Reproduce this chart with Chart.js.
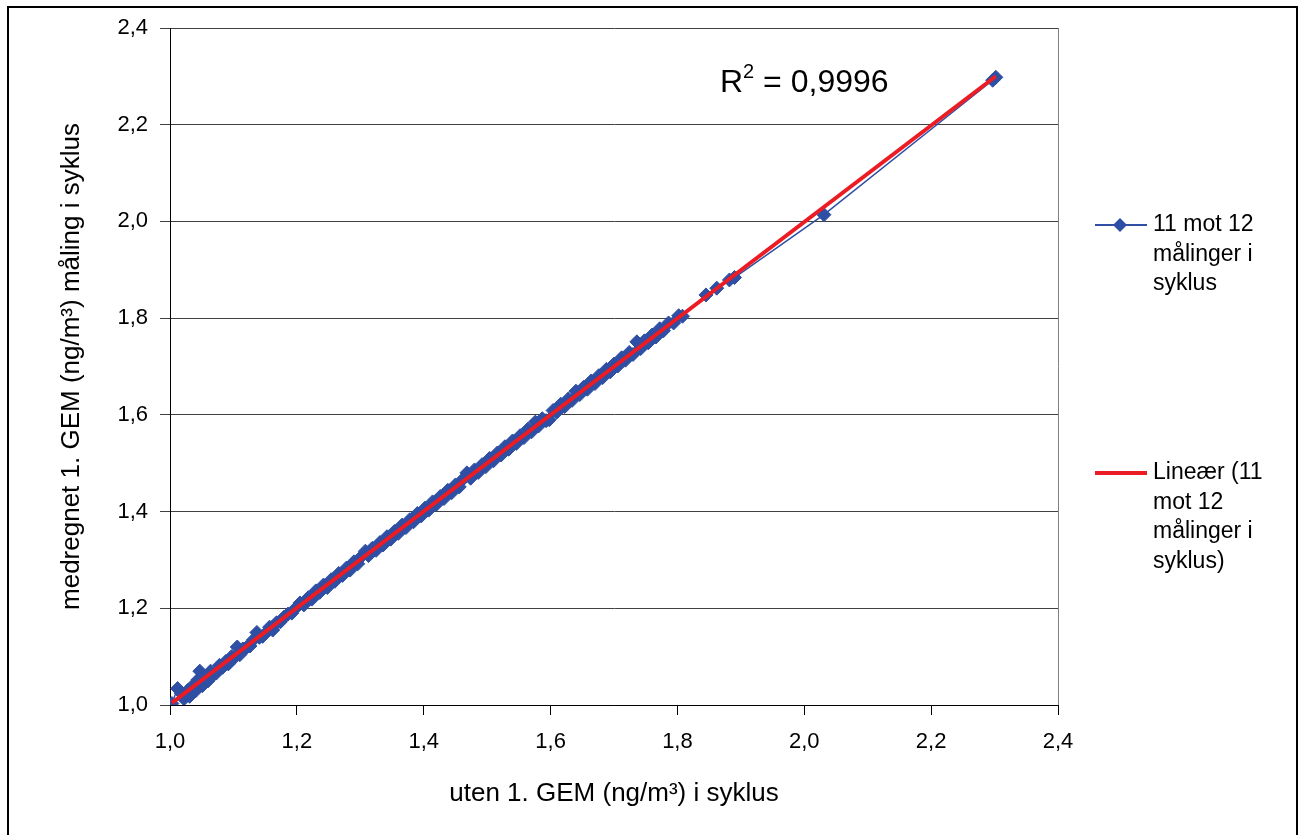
<!DOCTYPE html>
<html><head><meta charset="utf-8">
<script src="https://cdn.jsdelivr.net/npm/chart.js@4/dist/chart.umd.min.js"></script>
<style>html,body{margin:0;padding:0;background:#fff;}canvas{display:block}</style>
</head><body>
<canvas id="c" width="1302" height="835"></canvas>
<script>
// ---- data ----
const xValues = [1.003,1.012,1.018,1.022,1.028,1.031,1.036,1.040,1.044,1.047,1.051,1.055,1.060,1.064,1.068,1.073,1.078,1.083,1.088,1.092,1.097,1.101,1.106,1.110,1.115,1.120,1.126,1.131,1.137,1.141,1.146,1.152,1.157,1.162,1.168,1.174,1.180,1.186,1.192,1.198,
1.205,1.211,1.218,1.224,1.230,1.236,1.242,1.248,1.254,1.260,1.266,1.272,1.278,1.284,1.290,1.296,1.302,1.308,1.313,1.319,1.325,1.331,1.336,1.342,1.348,1.354,1.360,1.366,1.372,1.378,1.384,1.390,1.396,1.402,1.408,1.414,1.420,1.426,1.432,1.438,1.444,1.450,1.456,1.462,1.468,1.474,1.480,1.486,1.492,1.498,1.504,1.510,1.516,1.522,1.528,1.534,1.540,1.546,1.552,1.558,1.564,1.570,1.576,1.581,1.587,1.593,1.598,1.604,1.610,1.616,1.622,1.628,1.634,1.640,1.646,1.652,1.658,1.664,1.670,1.676,1.682,1.688,1.694,1.700,1.706,1.712,1.718,1.724,1.730,1.736,1.742,1.748,1.754,1.760,1.766,1.772,1.778,1.786,1.794,1.802,1.808,
1.845,1.862,1.882,1.890,2.031,2.297,2.302];
const yValues = [1.003,1.034,1.024,1.013,1.030,1.018,1.040,1.029,1.052,1.070,1.040,1.058,1.050,1.070,1.062,1.066,1.082,1.078,1.090,1.085,1.100,1.097,1.120,1.104,1.116,1.118,1.122,1.134,1.150,1.140,1.142,1.150,1.161,1.155,1.170,1.172,1.182,1.188,1.190,1.200,
1.211,1.207,1.222,1.219,1.236,1.233,1.248,1.243,1.259,1.256,1.272,1.268,1.283,1.279,1.296,1.292,1.307,1.318,1.309,1.324,1.320,1.336,1.331,1.348,1.343,1.359,1.355,1.372,1.367,1.383,1.379,1.396,1.391,1.407,1.403,1.420,1.415,1.431,1.427,1.444,1.439,1.455,1.451,1.467,1.480,1.469,1.486,1.481,1.497,1.493,1.510,1.505,1.521,1.517,1.534,1.529,1.546,1.541,1.557,1.553,1.570,1.565,1.585,1.577,1.592,1.588,1.590,1.609,1.606,1.622,1.617,1.633,1.630,1.649,1.642,1.657,1.653,1.670,1.665,1.681,1.677,1.694,1.689,1.705,1.701,1.718,1.713,1.729,1.725,1.751,1.737,1.753,1.749,1.765,1.761,1.778,1.774,1.790,1.790,1.805,1.804,
1.848,1.862,1.879,1.884,2.014,2.292,2.298];
const tickValues = [1.0,1.2,1.4,1.6,1.8,2.0,2.2,2.4];
const seriesLabelLines = ['11 mot 12','målinger i','syklus'];
const trendLabelLines = ['Lineær (11','mot 12','målinger i','syklus)'];
const xTitle = 'uten 1. GEM (ng/m³) i syklus';
const yTitle = 'medregnet 1. GEM (ng/m³) måling i syklus';
const r2Value = '0,9996';

// ---- derived ----
const n = Math.min(xValues.length, yValues.length);
const points = xValues.slice(0,n).map((x,i)=>({x:x,y:yValues[i]}));
const mx = points.reduce((a,p)=>a+p.x,0)/n, my = points.reduce((a,p)=>a+p.y,0)/n;
let sxy=0,sxx=0; points.forEach(p=>{sxy+=(p.x-mx)*(p.y-my);sxx+=(p.x-mx)**2;});
const slope = sxy/sxx, icpt = my - slope*mx;
const xmin = Math.min(...xValues), xmax = Math.max(...xValues);
const trend = [{x:xmin,y:icpt+slope*xmin},{x:xmax,y:icpt+slope*xmax}];

const BLUE = '#2E4FA3', RED = '#EC1C24';
const FONT = "'Liberation Sans', Arial, sans-serif";
const fmt = v => Number(v).toFixed(1).replace('.', ',');

const extras = {
  id:'extras',
  beforeDraw(chart){
    const ctx = chart.ctx; ctx.save();
    ctx.fillStyle='#fff'; ctx.fillRect(0,0,chart.width,chart.height);
    ctx.restore();
  },
  afterDraw(chart){
    const ctx = chart.ctx, ca = chart.chartArea;
    ctx.save();
    ctx.strokeStyle='#808080'; ctx.lineWidth=1;
    ctx.beginPath(); ctx.moveTo(Math.round(ca.right)+0.5, ca.top); ctx.lineTo(Math.round(ca.right)+0.5, ca.bottom); ctx.stroke();
    ctx.strokeStyle='#000'; ctx.lineWidth=2;
    ctx.beginPath(); ctx.moveTo(8,840); ctx.lineTo(8,7); ctx.lineTo(1297,7); ctx.lineTo(1297,840); ctx.stroke();
    ctx.font = '23px '+FONT; ctx.fillStyle='#000'; ctx.textBaseline='middle'; ctx.textAlign='left';
    let y0 = 225;
    ctx.strokeStyle=BLUE; ctx.lineWidth=2;
    ctx.beginPath(); ctx.moveTo(1095,y0); ctx.lineTo(1147,y0); ctx.stroke();
    ctx.fillStyle=BLUE; ctx.beginPath(); ctx.moveTo(1113,y0); ctx.lineTo(1120,y0-7); ctx.lineTo(1127,y0); ctx.lineTo(1120,y0+7); ctx.closePath(); ctx.fill();
    ctx.fillStyle='#000';
    seriesLabelLines.forEach((t,i)=>ctx.fillText(t,1153,y0+i*29.5));
    y0 = 473;
    ctx.strokeStyle=RED; ctx.lineWidth=4;
    ctx.beginPath(); ctx.moveTo(1095,y0); ctx.lineTo(1147,y0); ctx.stroke();
    trendLabelLines.forEach((t,i)=>ctx.fillText(t,1153,y0+i*29.5));
    ctx.textBaseline='alphabetic';
    ctx.font = '32px '+FONT; ctx.fillText('R',720,92);
    const rw = ctx.measureText('R').width;
    ctx.font = '20px '+FONT; ctx.fillText('2',720+rw,78);
    const sw = ctx.measureText('2').width;
    ctx.font = '32px '+FONT; ctx.fillText(' = '+r2Value,720+rw+sw,92);
    ctx.restore();
  }
};

new Chart(document.getElementById('c'), {
  type:'scatter',
  data:{datasets:[
    {label:'Lineær (11 mot 12 målinger i syklus)', data:trend, showLine:true, borderColor:RED, borderWidth:4, pointRadius:0, order:0},
    {label:'11 mot 12 målinger i syklus', data:points, showLine:true, borderColor:BLUE, backgroundColor:BLUE, borderWidth:1.5, pointStyle:'rectRot', pointRadius:7, pointBorderWidth:1, pointBorderColor:BLUE, pointBackgroundColor:BLUE, order:1}
  ]},
  options:{
    responsive:false, animation:false, devicePixelRatio:1,
    layout:{padding:{top:28,right:244,bottom:0,left:0}},
    plugins:{legend:{display:false}, tooltip:{enabled:false}},
    scales:{
      x:{type:'linear', min:1.0, max:2.4,
        afterBuildTicks: s => { s.ticks = tickValues.map(v=>({value:v})); },
        afterFit: s => { s.height = 130; },
        ticks:{callback:fmt, font:{family:FONT,size:22}, color:'#000', padding:14, maxRotation:0},
        grid:{drawOnChartArea:false, drawTicks:true, tickLength:10, color:'#000'},
        border:{color:'#000', width:1},
        title:{display:true, text:xTitle, font:{family:FONT,size:26}, color:'#000', padding:{top:0,bottom:26}}
      },
      y:{type:'linear', min:1.0, max:2.4,
        afterBuildTicks: s => { s.ticks = tickValues.map(v=>({value:v})); },
        afterFit: s => { s.width = 170; },
        ticks:{callback:fmt, font:{family:FONT,size:22}, color:'#000', padding:12},
        grid:{color:'#404040', lineWidth:1, drawTicks:true, tickLength:10},
        border:{color:'#000', width:1},
        title:{display:true, text:yTitle, font:{family:FONT,size:26}, color:'#000', padding:{top:56,bottom:0}}
      }
    }
  },
  plugins:[extras]
});
</script>
</body></html>
